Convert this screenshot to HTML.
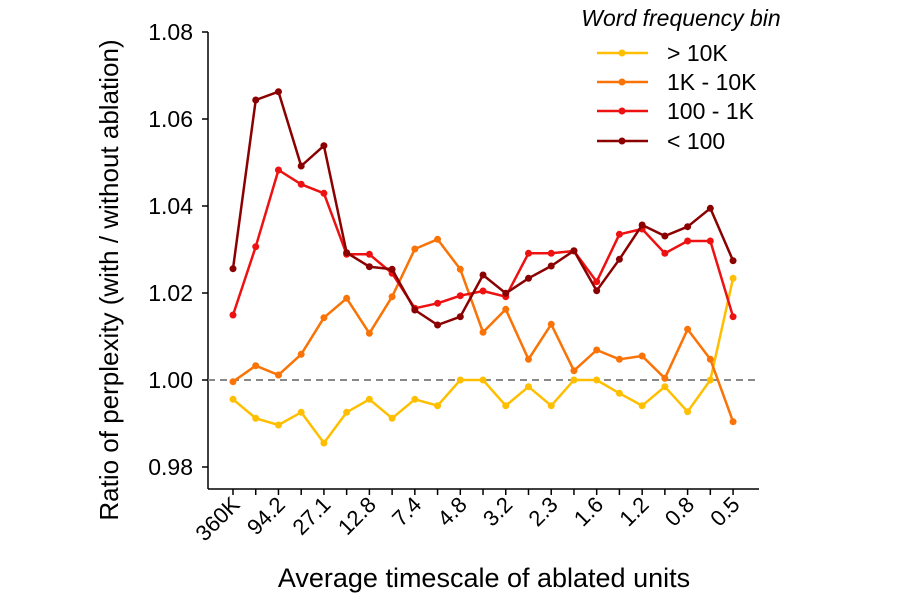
<!DOCTYPE html>
<html><head><meta charset="utf-8"><style>
html,body{margin:0;padding:0;background:#fff;}
svg{display:block;font-family:"Liberation Sans",Arial,sans-serif;}
</style></head><body>
<svg width="900" height="600" viewBox="0 0 900 600" xmlns="http://www.w3.org/2000/svg">
<rect width="900" height="600" fill="#fff"/>
<line x1="208" y1="32" x2="208" y2="489" stroke="#000" stroke-width="1.5"/>
<line x1="208" y1="489" x2="759" y2="489" stroke="#000" stroke-width="1.5"/>
<g stroke="#000" stroke-width="1.5">
<line x1="202" y1="32" x2="208" y2="32"/><line x1="202" y1="119" x2="208" y2="119"/>
<line x1="202" y1="206" x2="208" y2="206"/><line x1="202" y1="293" x2="208" y2="293"/>
<line x1="202" y1="380" x2="208" y2="380"/><line x1="202" y1="467" x2="208" y2="467"/>
</g>
<g font-size="23" text-anchor="end" fill="#000">
<text x="193" y="40">1.08</text><text x="193" y="127">1.06</text><text x="193" y="214">1.04</text>
<text x="193" y="301">1.02</text><text x="193" y="388">1.00</text><text x="193" y="475">0.98</text>
</g>
<g id="xt" stroke="#000" stroke-width="1.5"></g>
<g id="xl" font-size="22" text-anchor="end" fill="#000"></g>
<line x1="208" y1="380" x2="759" y2="380" stroke="#888" stroke-width="2" stroke-dasharray="7,5"/>
<g id="series"></g>
<text x="484" y="587" font-size="27" text-anchor="middle">Average timescale of ablated units</text>
<text transform="translate(118,280) rotate(-90)" font-size="26" text-anchor="middle">Ratio of perplexity (with / without ablation)</text>
<text x="681" y="26" font-size="23" font-style="italic" text-anchor="middle">Word frequency bin</text>
<g stroke-width="2.5">
<line x1="597" y1="53" x2="648" y2="53" stroke="#FFBF00"/><circle cx="622" cy="53" r="3.5" fill="#FFBF00"/>
<line x1="597" y1="82" x2="648" y2="82" stroke="#F97306"/><circle cx="622" cy="82" r="3.5" fill="#F97306"/>
<line x1="597" y1="111" x2="648" y2="111" stroke="#EE1111"/><circle cx="622" cy="111" r="3.5" fill="#EE1111"/>
<line x1="597" y1="141" x2="648" y2="141" stroke="#8B0000"/><circle cx="622" cy="141" r="3.5" fill="#8B0000"/>
</g>
<g font-size="23">
<text x="667" y="61">&gt; 10K</text><text x="667" y="90">1K - 10K</text>
<text x="667" y="119">100 - 1K</text><text x="667" y="149">&lt; 100</text>
</g>
</svg>
<script>
var ns="http://www.w3.org/2000/svg";
function X(i){return 233+i*22.73;}
var xt=document.getElementById("xt"),xl=document.getElementById("xl");
var labs=["360K","94.2","27.1","12.8","7.4","4.8","3.2","2.3","1.6","1.2","0.8","0.5"];
for(var i=0;i<23;i++){var l=document.createElementNS(ns,"line");l.setAttribute("x1",X(i));l.setAttribute("x2",X(i));l.setAttribute("y1",489);l.setAttribute("y2",495);xt.appendChild(l);}
for(var k=0;k<12;k++){var x=X(2*k)+8,t=document.createElementNS(ns,"text");t.setAttribute("transform","translate("+x+",506) rotate(-45)");t.textContent=labs[k];xl.appendChild(t);}
var S=[
["#FFBF00",[399.3,418.3,425,412.3,443,412.3,399.3,418.3,399.3,405.7,380,380,405.7,386.7,405.7,380,380,393.3,405.7,386.7,411.7,380,278.3]],
["#F97306",[381.7,365.7,375,354.3,317.7,298.3,333.3,296.7,249,239.3,269.3,332.3,309.3,359.3,324.3,370.7,350,359.3,356,378.3,329.3,359.3,421.7]],
["#EE1111",[315,246.7,170,184.3,193.3,254.3,254.3,273.3,308.3,303.3,295.7,291,296.7,253.3,253.3,251,281.7,234.3,229,253.3,241,241,316.7]],
["#8B0000",[268.7,100,91.7,166,145.7,252.7,266.7,269.3,310,325,316.7,275,293.3,278.3,266,250.7,290.7,259.3,225,236,226.7,208.3,260.7]]];
var g=document.getElementById("series");
S.forEach(function(s){var p=document.createElementNS(ns,"polyline");p.setAttribute("points",s[1].map(function(y,i){return X(i)+","+y}).join(" "));p.setAttribute("fill","none");p.setAttribute("stroke",s[0]);p.setAttribute("stroke-width","2.5");p.setAttribute("stroke-linejoin","round");g.appendChild(p);
s[1].forEach(function(y,i){var c=document.createElementNS(ns,"circle");c.setAttribute("cx",X(i));c.setAttribute("cy",y);c.setAttribute("r",3.5);c.setAttribute("fill",s[0]);g.appendChild(c);});});
</script>
</body></html>
